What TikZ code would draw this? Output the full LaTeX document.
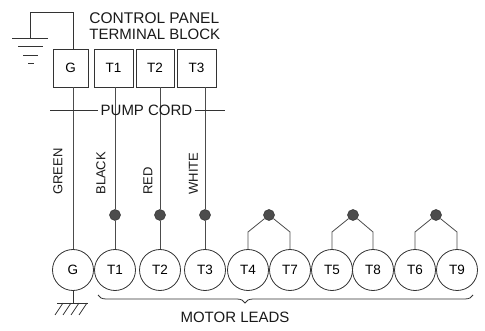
\documentclass[tikz,border=0pt]{standalone}
\usepackage{fontspec}
\setmainfont{Liberation Sans}
\usetikzlibrary{decorations.pathreplacing}
\begin{document}
\begin{tikzpicture}[x=1pt,y=-1pt, line width=0.8pt, draw=black!80,
  tbox/.style={draw=black!80, minimum height=38pt, inner sep=0, font=\fontsize{13.5}{14}\selectfont},
  lead/.style={circle, draw=black!80, minimum size=41pt, inner sep=0, font=\fontsize{13.5}{14}\selectfont},
  jdot/.style={circle, fill=black!70, draw=black!80, line width=0.5pt, minimum size=11pt, inner sep=0},
  lbl/.style={font=\fontsize{15}{16}\selectfont, inner sep=0, text=black!90},
  clbl/.style={font=\fontsize{13}{14}\selectfont, inner sep=0, rotate=90, anchor=west, text=black!90},
  wire/.style={draw=black!70}]
\useasboundingbox (0,0) rectangle (485,331);
% titles
\node[lbl, font=\fontsize{15.5}{16}\selectfont, anchor=base west] (cp) at (89,24) {CONTROL PANEL};
\node[lbl, anchor=base west] (tb) at (89,40) {TERMINAL BLOCK};
% terminal block
\node[tbox, minimum width=35pt] (bG) at (70.5,68) {G};
\node[tbox, minimum width=39pt] (bT1) at (113.5,68) {T1};
\node[tbox, minimum width=38pt] (bT2) at (155,68) {T2};
\node[tbox, minimum width=39pt] (bT3) at (196.5,68) {T3};
% motor leads
\node[lead] (cG) at (73,270) {G};
\node[lead] (cT1) at (115,270) {T1};
\node[lead] (cT2) at (160,270) {T2};
\node[lead] (cT3) at (205,270) {T3};
\node[lead] (cT4) at (248,270) {T4};
\node[lead] (cT7) at (290,270) {T7};
\node[lead] (cT5) at (332,270) {T5};
\node[lead] (cT8) at (373,270) {T8};
\node[lead] (cT6) at (415,270) {T6};
\node[lead] (cT9) at (457,270) {T9};
% junction dots
\node[jdot] (dT1) at (115,215) {};
\node[jdot] (dT2) at (160,215) {};
\node[jdot] (dT3) at (205,215) {};
\node[jdot] (d47) at (269,215) {};
\node[jdot] (d58) at (353,215) {};
\node[jdot] (d69) at (436,215) {};
% wires
\draw[wire] (bG.south -| cG.north) -- (cG.north);
\draw[wire] (bT1.south -| dT1) -- (dT1);
\draw[wire] (dT1) -- (cT1.north);
\draw[wire] (bT2.south -| dT2) -- (dT2);
\draw[wire] (dT2) -- (cT2.north);
\draw[wire] (bT3.south -| dT3) -- (dT3);
\draw[wire] (dT3) -- (cT3.north);
\coordinate (kink) at (0,232);
\draw[wire] (cT4.north) -- (cT4.north |- kink) -- (d47);
\draw[wire] (cT7.north) -- (cT7.north |- kink) -- (d47);
\draw[wire] (cT5.north) -- (cT5.north |- kink) -- (d58);
\draw[wire] (cT8.north) -- (cT8.north |- kink) -- (d58);
\draw[wire] (cT6.north) -- (cT6.north |- kink) -- (d69);
\draw[wire] (cT9.north) -- (cT9.north |- kink) -- (d69);
% wire colour labels
\node[clbl] (lg) at (58,195) {GREEN};
\node[clbl] (lb) at (101,195) {BLACK};
\node[clbl] (lr) at (148,195) {RED};
\node[clbl] (lw) at (193.5,195) {WHITE};
% pump cord
\node[lbl, inner sep=2pt] (pc) at (146.5,110) {PUMP CORD};
\coordinate (pcl) at (50,110);
\coordinate (pcr) at (225,110);
\draw (pcl) -- (pc.west);
\draw (pc.east) -- (pcr);
% panel ground
\coordinate (gc) at (30,12);
\coordinate (gt) at (30,38);
\draw (bG.north -| cG.north) |- (gc) -- (gt);
\draw (12,38) -- (48,38);
\draw (18,46) -- (43,46);
\draw (23,55) -- (38,55);
\draw (28,63) -- (34,63);
% motor ground
\coordinate (gb) at (73,303);
\draw (cG.south) -- (gb);
\draw (57,303) -- (88,303);
\foreach \t in {63,71,79,87} \draw (\t,303) -- (\t-8,315);
% brace
\coordinate (br1) at (98,295);
\coordinate (br2) at (473,295);
\draw[decorate, decoration={brace, amplitude=8pt, mirror, aspect=0.392}] (br1) -- (br2);
\node[lbl] (ml) at (235,317) {MOTOR LEADS};
\end{tikzpicture}
\end{document}
